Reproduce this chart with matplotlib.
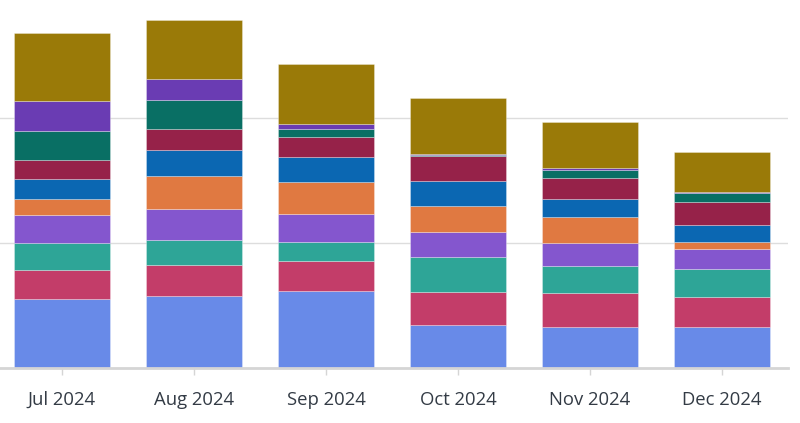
import matplotlib
matplotlib.use("Agg")
import matplotlib.pyplot as plt
import numpy as np

months = ["Jul 2024", "Aug 2024", "Sep 2024", "Oct 2024", "Nov 2024", "Dec 2024"]

# series listed bottom to top
s_lightblue = [55.2, 57.9, 62.1, 34.7, 32.8, 32.8]
s_pink      = [23.5, 24.8, 24.0, 26.1, 27.2, 24.5]
s_green     = [21.3, 20.0, 15.2, 28.0, 22.1, 22.4]
s_violet    = [22.7, 24.8, 21.9, 20.0, 17.9, 16.0]
s_orange    = [13.0, 26.7, 26.1, 21.3, 21.3, 5.1]
s_blue      = [15.5, 20.5, 20.0, 19.7, 13.9, 13.9]
s_crimson   = [15.5, 16.5, 15.5, 20.3, 17.3, 18.1]
s_teal      = [23.2, 23.5, 6.4, 0.3, 6.1, 7.2]
s_purple    = [24.0, 16.5, 4.3, 0.8, 1.3, 1.3]
s_gold      = [54.7, 47.5, 47.7, 45.3, 36.8, 32.0]

series = [s_lightblue, s_pink, s_green, s_violet, s_orange,
          s_blue, s_crimson, s_teal, s_purple, s_gold]
colors = ["#688ae8", "#c33d69", "#2ea597", "#8456ce", "#e07941",
          "#0b67b2", "#962249", "#096f64", "#6a3cb3", "#9a7a08"]

fig = plt.figure(figsize=(8.0, 4.23), dpi=100)
ax = fig.add_axes([0.0, 54.7 / 423, 788 / 800, 368.3 / 423])

x = np.arange(len(months))
bottom = np.zeros(len(months))
for vals, c in zip(series, colors):
    v = np.array(vals)
    ax.bar(x, v, bottom=bottom, width=0.727, color=c, edgecolor=(1, 1, 1, 0.35),
           linewidth=0.6, zorder=3)
    bottom += v

ax.set_xlim(-62 / 132, (788 - 62) / 132)
ax.set_ylim(0, 294.6)
ax.set_yticks([100, 200])
ax.yaxis.grid(True, color="#dddddd", linewidth=1.0, zorder=0)
ax.tick_params(axis="y", left=False, labelleft=False)
for s in ["top", "right", "left"]:
    ax.spines[s].set_visible(False)
ax.spines["bottom"].set_color("#d5d5d5")
ax.spines["bottom"].set_linewidth(2.0)
ax.spines["bottom"].set_zorder(4)

ax.set_xticks(x)
ax.set_xticklabels(months, fontsize=13.3, color="#333b45", fontfamily="Open Sans")
ax.tick_params(axis="x", length=5, width=1, color="#d5d5d5", pad=11)

fig.savefig("out.png", dpi=100)
